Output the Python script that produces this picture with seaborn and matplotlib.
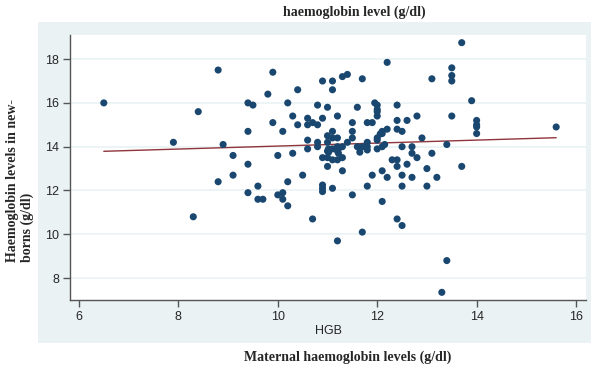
import matplotlib
matplotlib.use("Agg")
import matplotlib.pyplot as plt
from matplotlib.patches import Rectangle
import seaborn as sns
import pandas as pd

sns.set_style("white")
plt.rcParams['font.family'] = ['Liberation Sans', 'DejaVu Sans']

# maternal HGB (x) and newborn HGB (y)
maternal_hgb = [
    6.5, 7.9, 8.3, 8.4, 8.8, 8.8, 8.9, 9.1, 9.1, 9.4,
    9.5, 9.4, 9.4, 9.4, 9.6, 9.6, 9.7, 9.8, 9.9, 9.9,
    10.0, 10.0, 10.1, 10.1, 10.1, 10.2, 10.2, 10.2, 10.3, 10.3,
    10.4, 10.4, 10.5, 10.6, 10.6, 10.6, 10.6, 10.7, 10.7, 10.8,
    10.8, 10.8, 10.8, 10.9, 10.9, 10.9, 10.9, 10.9, 10.9, 11.0,
    11.0, 11.0, 11.0, 11.0, 11.1, 11.1, 11.1, 11.1, 11.1, 11.2,
    11.2, 11.2, 11.2, 11.2, 11.2, 11.3, 11.4, 11.3, 11.3, 11.4,
    11.5, 11.5, 11.5, 11.5, 11.6, 11.6, 11.7, 11.7, 11.7, 11.8,
    11.9, 11.8, 11.8, 11.8, 11.8, 11.9, 11.95, 12.0, 12.0, 12.0,
    12.0, 12.0, 12.0, 12.06, 12.1, 12.1, 12.1, 12.1, 12.2, 12.2,
    12.2, 12.3, 12.4, 12.4, 12.4, 12.4, 12.4, 12.4, 12.5, 12.5,
    12.5, 12.5, 12.5, 12.6, 12.6, 12.7, 12.7, 12.7, 12.8, 12.8,
    12.9, 13.0, 13.0, 13.1, 13.1, 13.2, 13.3, 13.4, 13.4, 13.5,
    13.5, 13.5, 13.5, 13.7, 13.7, 13.9, 14.0, 14.0, 14.0, 14.0,
    15.6, 11.1, 11.3, 11.65, 12.1, 12.15, 12.0, 11.0, 11.1, 11.02,
    11.22, 11.02, 11.22,
]
newborn_hgb = [
    16.0, 14.2, 10.8, 15.6, 17.5, 12.4, 14.1, 13.6, 12.7, 16.0,
    15.9, 14.7, 13.2, 11.9, 12.2, 11.6, 11.6, 16.4, 17.4, 15.1,
    13.6, 11.8, 11.9, 11.6, 14.7, 16.0, 12.4, 11.3, 13.7, 15.4,
    16.6, 15.0, 12.7, 15.3, 15.0, 14.3, 13.9, 15.1, 10.7, 15.0,
    15.9, 14.2, 14.0, 17.0, 15.3, 13.5, 12.25, 12.1, 11.95, 15.8,
    14.5, 14.2, 13.8, 13.1, 17.0, 16.6, 14.7, 14.4, 12.1, 15.4,
    14.4, 14.0, 13.8, 13.4, 9.7, 17.2, 17.3, 13.5, 12.9, 14.2,
    15.1, 14.7, 14.4, 11.8, 15.8, 14.0, 14.0, 17.1, 10.1, 15.1,
    15.1, 14.2, 14.0, 13.85, 12.2, 12.7, 16.0, 15.9, 15.7, 15.6,
    15.4, 14.4, 14.3, 14.58, 14.6, 14.7, 12.9, 11.5, 17.85, 14.8,
    12.6, 13.4, 15.9, 15.2, 14.8, 13.4, 13.1, 10.7, 14.7, 14.0,
    12.7, 12.2, 10.4, 15.2, 13.2, 14.0, 13.7, 12.6, 15.4, 13.5,
    14.4, 13.0, 12.2, 17.1, 13.7, 12.6, 7.35, 14.1, 8.8, 17.6,
    17.25, 17.0, 15.4, 18.75, 13.1, 16.1, 15.2, 15.0, 14.9, 14.6,
    14.9, 13.9, 14.0, 13.75, 14.0, 14.1, 13.9, 13.5, 13.4, 13.9,
    13.9, 13.74, 13.7,
]

# fitted line end points as drawn in the picture
fit_x = [6.5, 15.6]
fit_y = [13.79, 14.41]

x_ticks = [6, 8, 10, 12, 14, 16]
y_ticks = [8, 10, 12, 14, 16, 18]

df = pd.DataFrame({'HGB': maternal_hgb, 'newborn': newborn_hgb})
fit = pd.DataFrame({'x': fit_x, 'y': fit_y})

W, H = 602, 371
fig = plt.figure(figsize=(W / 100, H / 100), dpi=100)
panel = '#EAF2F3'
fig.patches.append(Rectangle((38 / W, 1 - 343 / H), (591 - 38) / W, (343 - 22) / H,
                             transform=fig.transFigure, facecolor=panel,
                             edgecolor='none', zorder=0))

ax = fig.add_axes([70 / W, 1 - 300 / H, (586 - 70) / W, (300 - 35) / H])
ax.set_facecolor('white')
ax.set_zorder(1)

sns.lineplot(data=fit, x='x', y='y', color='#90353B', linewidth=1.0, ax=ax, zorder=2)
sns.scatterplot(data=df, x='HGB', y='newborn', color='#1A476F', s=26,
                edgecolor='none', ax=ax, zorder=3)

ax.set_xlim(5.82, 16.2)
ax.set_ylim(7.0, 19.1)
ax.set_xticks(x_ticks)
ax.set_yticks(y_ticks)
ax.yaxis.grid(True, color=panel, linewidth=1.2)
ax.set_axisbelow(True)
for side in ['top', 'right']:
    ax.spines[side].set_visible(False)
for side in ['left', 'bottom']:
    ax.spines[side].set_color('#555555')
    ax.spines[side].set_linewidth(1.0)
ax.tick_params(axis='both', direction='out', length=5, width=1, color='#555555',
               labelsize=9, pad=3, left=True, bottom=True)
ax.set_xlabel('HGB', fontsize=9, labelpad=1)
ax.set_ylabel('')

serif = ['Liberation Serif', 'DejaVu Serif']
fig.text(354 / W, 1 - 12 / H, 'haemoglobin level (g/dl)', family=serif,
         fontweight='bold', fontsize=10, ha='center', va='center')
fig.text(348 / W, 1 - 357 / H, 'Maternal haemoglobin levels (g/dl)', family=serif,
         fontweight='bold', fontsize=10, ha='center', va='center')
fig.text(20 / W, 1 - 180 / H, 'Haemoglobin levels in new-\nborns (g/dl)', family=serif,
         fontweight='bold', fontsize=10, rotation=90, ha='center', va='center',
         multialignment='left', linespacing=1.2)

fig.savefig('out.png', dpi=100)
